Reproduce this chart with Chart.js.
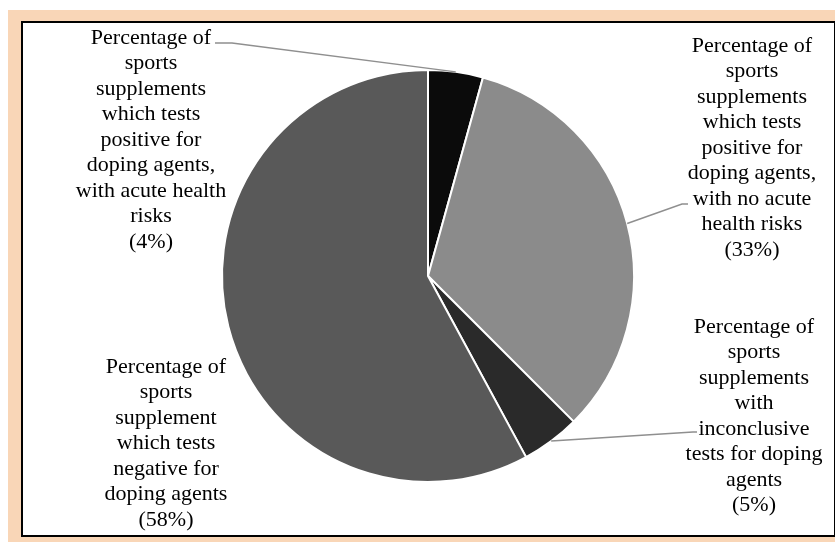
<!DOCTYPE html>
<html>
<head>
<meta charset="utf-8">
<script src="https://cdn.jsdelivr.net/npm/chart.js@4.4.0/dist/chart.umd.min.js"></script>
<style>
  html,body{margin:0;padding:0;background:#fff;width:835px;height:542px;overflow:hidden;}
  #peach{position:absolute;left:8px;top:10px;width:827px;height:532px;background:#f9d6b7;}
  #box{position:absolute;left:21px;top:21px;width:815px;height:516px;border:2px solid #000;box-sizing:border-box;background:#fff;}
  #c{position:absolute;left:0;top:0;}
</style>
</head>
<body>
<div id="peach"></div>
<div id="box"></div>
<canvas id="c" width="835" height="542"></canvas>
<script>
// ---- data ----
const categories = [
  "Percentage of sports supplements which tests positive for doping agents, with acute health risks",
  "Percentage of sports supplements which tests positive for doping agents, with no acute health risks",
  "Percentage of sports supplements with inconclusive tests for doping agents",
  "Percentage of sports supplement which tests negative for doping agents"
];
const values = [4.3, 33.2, 4.6, 57.9];
const percentLabels = ["(4%)", "(33%)", "(5%)", "(58%)"];
const labelLines0 = ["Percentage of","sports","supplements","which tests","positive for","doping agents,","with acute health","risks"];
const labelLines1 = ["Percentage of","sports","supplements","which tests","positive for","doping agents,","with no acute","health risks"];
const labelLines2 = ["Percentage of","sports","supplements","with","inconclusive","tests for doping","agents"];
const labelLines3 = ["Percentage of","sports","supplement","which tests","negative for","doping agents"];
const sliceColors = ["#0b0b0b", "#8b8b8b", "#2a2a2a", "#595959"];

// ---- label layout (positions only) ----
const labelLayout = [
  {lines: labelLines0.concat([percentLabels[0]]), x: 151, y: 38, leader: {from: [215, 43], knee: [232, 43]}},
  {lines: labelLines1.concat([percentLabels[1]]), x: 752, y: 46, leader: {from: [688, 204], knee: [682, 204]}},
  {lines: labelLines2.concat([percentLabels[2]]), x: 754, y: 327, leader: {from: [697, 432], knee: [693, 432]}},
  {lines: labelLines3.concat([percentLabels[3]]), x: 166, y: 367, leader: null}
];
const lineHeight = 25.5;
const fontSpec = "22px 'Liberation Serif', 'Times New Roman', serif";

const labelPlugin = {
  id: 'outsideLabels',
  afterDatasetsDraw(chart) {
    const ctx = chart.ctx;
    const meta = chart.getDatasetMeta(0);
    ctx.save();
    labelLayout.forEach((lab, i) => {
      const arc = meta.data[i];
      if (lab.leader && arc) {
        const p = arc.getProps(['x','y','startAngle','endAngle','outerRadius'], true);
        const mid = (p.startAngle + p.endAngle) / 2;
        const ex = p.x + Math.cos(mid) * p.outerRadius;
        const ey = p.y + Math.sin(mid) * p.outerRadius;
        ctx.strokeStyle = '#8f8f8f';
        ctx.lineWidth = 1.5;
        ctx.beginPath();
        ctx.moveTo(lab.leader.from[0], lab.leader.from[1]);
        ctx.lineTo(lab.leader.knee[0], lab.leader.knee[1]);
        ctx.lineTo(ex, ey);
        ctx.stroke();
      }
      ctx.fillStyle = '#000';
      ctx.font = fontSpec;
      ctx.textAlign = 'center';
      ctx.textBaseline = 'middle';
      lab.lines.forEach((t, k) => {
        ctx.fillText(t, lab.x, lab.y + k * lineHeight);
      });
    });
    ctx.restore();
  }
};

new Chart(document.getElementById('c'), {
  type: 'pie',
  data: {
    labels: categories,
    datasets: [{
      data: values,
      backgroundColor: sliceColors,
      borderColor: '#ffffff',
      borderWidth: 2,
      radius: 206
    }]
  },
  options: {
    responsive: false,
    devicePixelRatio: 1,
    animation: false,
    layout: {padding: {left: 222, right: 201, top: 70, bottom: 60}},
    plugins: {legend: {display: false}, tooltip: {enabled: false}}
  },
  plugins: [labelPlugin]
});
</script>
</body>
</html>
